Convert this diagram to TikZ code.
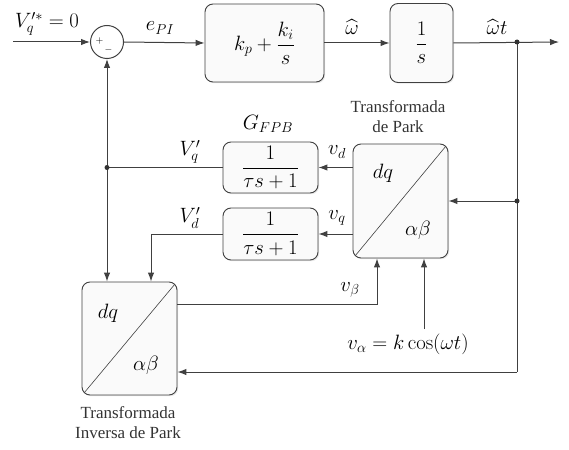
\documentclass[tikz,border=0pt]{standalone}
\usepackage{amsmath}
\usepackage[no-math]{fontspec}
\setmainfont{Liberation Serif}
\usetikzlibrary{arrows.meta,shadows,calc}
\begin{document}
\begin{tikzpicture}[x=1pt,y=-1pt,
 blk/.style={draw=black!75, line width=0.9pt, rounded corners=8pt, fill=black!2,
   drop shadow={opacity=0.18, shadow xshift=1.2pt, shadow yshift=-1.2pt}, inner sep=0pt},
 wire/.style={draw=black!75, line width=1pt},
 arr/.style={wire, -{Latex[length=9pt,width=6.5pt]}},
 diag/.style={draw=black!75, line width=0.6pt},
 dot/.style={circle, fill=black!80, inner sep=0pt, minimum size=5pt},
 lbl/.style={font=\fontsize{21}{23}\selectfont, inner sep=0pt},
 txt/.style={font=\fontsize{17}{20}\selectfont, align=center, text=black!80, inner sep=0pt}]
\useasboundingbox (0,0) rectangle (569,449);

% blocks
\node[wire, circle, minimum size=33pt, inner sep=0pt] (sum) at (107,42) {};
\node[font=\fontsize{10}{10}\selectfont, inner sep=0pt] (plus) at (99.5,41) {$+$};
\node[font=\fontsize{10}{10}\selectfont, inner sep=0pt] (minus) at (108.5,50) {$-$};
\node[blk, minimum width=119pt, minimum height=78pt, lbl] (pi) at (264.5,43) {$k_p+\dfrac{k_i}{s}$};
\node[blk, minimum width=63pt, minimum height=79pt, lbl] (int) at (421.5,43) {$\dfrac{1}{s}$};
\node[blk, minimum width=95pt, minimum height=51pt, lbl] (f1) at (270.5,167.5) {$\dfrac{1}{\tau s+1}$};
\node[blk, minimum width=95pt, minimum height=52pt, lbl] (f2) at (270.5,234) {$\dfrac{1}{\tau s+1}$};
\node[blk, minimum width=95pt, minimum height=114pt] (park) at (400.5,201) {};
\node[blk, minimum width=95pt, minimum height=113pt] (ipark) at (129.5,338.5) {};
\draw[diag] ($(park.south west)+(2.5,-2.5)$) -- ($(park.north east)+(-2.5,2.5)$);
\draw[diag] ($(ipark.south west)+(2.5,-2.5)$) -- ($(ipark.north east)+(-2.5,2.5)$);
\node[lbl] (pdq) at (383,173) {$dq$};
\node[lbl] (pab) at (418,230) {$\alpha\beta$};
\node[lbl] (idq) at (108,313) {$dq$};
\node[lbl] (iab) at (146,365) {$\alpha\beta$};

% coordinates
\coordinate (in) at (13,42);
\coordinate (j1) at (517,42);
\coordinate (out) at (559,42);
\coordinate (j2) at (517,201);
\coordinate (j3) at (517,372);
\coordinate (j4) at (107,167.5);
\coordinate (va) at (424,329);
\path (ipark.east) ++(0,-34.5) coordinate (b1);

% connectors
\draw[arr] (in) -- (sum.west);
\draw[arr] (sum.east) -- (pi.west);
\draw[arr] (pi.east) -- (int.west);
\draw[arr] (int.east) -- (out);
\draw[wire] (j1) -- (j3);
\draw[arr] (j2) -- (park.east);
\draw[arr] (j3) -- (j3 -| ipark.east);
\draw[arr] (f1.east -| park.west) -- (f1.east);
\draw[arr] (f2.east -| park.west) -- (f2.east);
\draw[wire] (f1.west) -- (j4);
\draw[arr] (j4) -- (sum.south);
\draw[arr] (j4) -- (j4 |- ipark.north);
\draw[arr] (f2.west) -| ([xshift=21.5pt]ipark.north);
\draw[arr] (b1) -| ([xshift=-23.5pt]park.south);
\draw[arr] (va) -- (va |- park.south);
\node[dot] at (j1) {};
\node[dot] at (j2) {};
\node[dot] at (j4) {};

% labels
\node[lbl] (lin) at (47,24) {$V_q^{\prime *} = 0$};
\node[lbl] (lepi) at (160,28) {$e_{PI}$};
\node[lbl] (lw) at (352,27) {$\widehat{\omega}$};
\node[lbl] (lwt) at (497,27) {$\widehat{\omega}t$};
\node[lbl] (lg) at (268,124) {$G_{FPB}$};
\node[txt] (tp) at (398,117) {Transformada\\de Park};
\node[lbl] (lvq1) at (190,152) {$V_q'$};
\node[lbl] (lvd1) at (190,218) {$V_d'$};
\node[lbl] (lvd) at (337,152) {$v_d$};
\node[lbl] (lvq) at (337,218) {$v_q$};
\node[lbl] (lvb) at (350,290) {$v_\beta$};
\node[lbl] (lva) at (408,344) {$v_\alpha = k\cos(\omega t)$};
\node[txt] (tip) at (128,423) {Transformada\\Inversa de Park};
\end{tikzpicture}
\end{document}
